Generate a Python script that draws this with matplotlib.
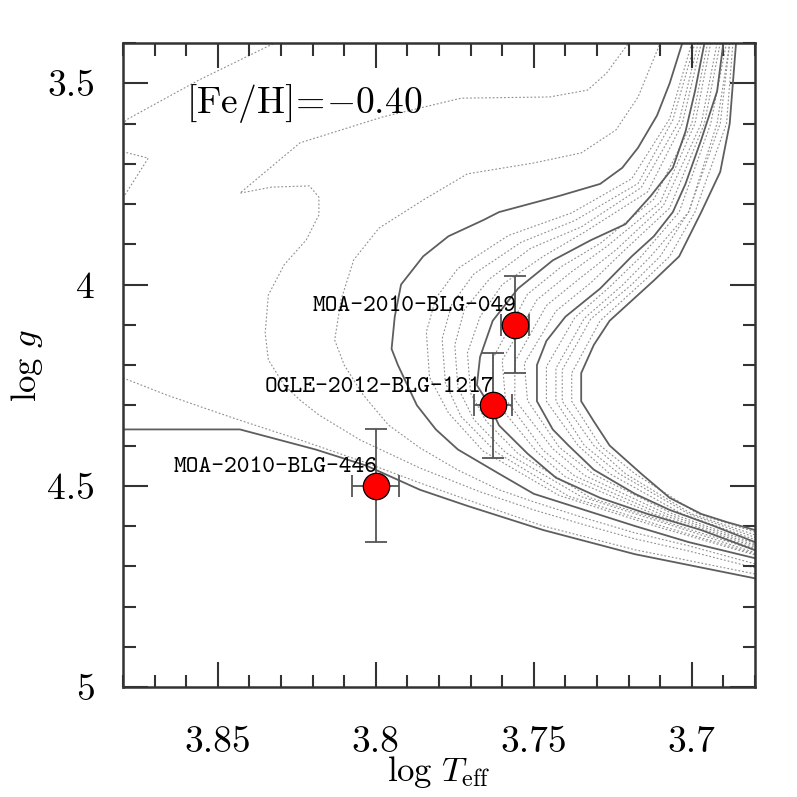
import numpy as np
import matplotlib
matplotlib.use("Agg")
import matplotlib.pyplot as plt
from matplotlib.ticker import MultipleLocator, FuncFormatter

plt.rcParams["font.family"] = "cmr10"
plt.rcParams["mathtext.fontset"] = "cm"
plt.rcParams["axes.formatter.use_mathtext"] = True

# --- isochrones (log Teff, log g) ---
# solid ones
iso_a_t = [3.686, 3.687, 3.688, 3.691, 3.697, 3.704, 3.712, 3.726, 3.731, 3.735, 3.735, 3.731, 3.726, 3.716, 3.707, 3.697, 3.689, 3.680]
iso_a_g = [3.40, 3.50, 3.60, 3.72, 3.82, 3.93, 3.99, 4.09, 4.15, 4.22, 4.29, 4.34, 4.40, 4.47, 4.53, 4.57, 4.59, 4.61]
iso_b_t = [3.690, 3.692, 3.697, 3.702, 3.706, 3.712, 3.719, 3.729, 3.740, 3.746, 3.749, 3.749, 3.744, 3.739, 3.731, 3.718, 3.707, 3.693, 3.680]
iso_b_g = [3.40, 3.52, 3.64, 3.75, 3.82, 3.88, 3.93, 4.01, 4.08, 4.14, 4.20, 4.29, 4.36, 4.40, 4.46, 4.52, 4.56, 4.60, 4.64]
iso_c_t = [3.696, 3.699, 3.702, 3.706, 3.713, 3.721, 3.732, 3.744, 3.755, 3.763, 3.767, 3.768, 3.764, 3.761, 3.752, 3.743, 3.729, 3.714, 3.697, 3.680]
iso_c_g = [3.40, 3.52, 3.62, 3.71, 3.78, 3.85, 3.89, 3.94, 4.01, 4.09, 4.18, 4.25, 4.30, 4.35, 4.42, 4.48, 4.53, 4.57, 4.61, 4.66]
iso_d_t = [3.703, 3.707, 3.711, 3.717, 3.722, 3.729, 3.742, 3.761, 3.766, 3.777, 3.785, 3.792, 3.794, 3.795, 3.793, 3.787, 3.781, 3.774, 3.761, 3.750, 3.734, 3.718, 3.701, 3.680]
iso_d_g = [3.40, 3.50, 3.58, 3.66, 3.71, 3.75, 3.78, 3.82, 3.84, 3.88, 3.93, 4.00, 4.08, 4.16, 4.20, 4.30, 4.36, 4.41, 4.47, 4.52, 4.56, 4.60, 4.64, 4.68]
iso_e_t = [3.880, 3.869, 3.843, 3.819, 3.803, 3.786, 3.771, 3.747, 3.718, 3.680]
iso_e_g = [4.36, 4.36, 4.36, 4.41, 4.45, 4.51, 4.55, 4.61, 4.67, 4.73]

# dotted ones between A and B
ab_t = [
    [3.687, 3.689, 3.699, 3.707, 3.715, 3.729, 3.738, 3.738, 3.729, 3.718, 3.698, 3.680],
    [3.688, 3.691, 3.701, 3.710, 3.719, 3.732, 3.741, 3.741, 3.731, 3.721, 3.700, 3.680],
    [3.688, 3.692, 3.701, 3.713, 3.722, 3.734, 3.743, 3.743, 3.734, 3.723, 3.701, 3.680],
    [3.689, 3.694, 3.704, 3.716, 3.726, 3.737, 3.746, 3.746, 3.736, 3.726, 3.703, 3.680],
]
ab_g = [
    [3.40, 3.60, 3.82, 3.93, 3.99, 4.09, 4.22, 4.29, 4.40, 4.47, 4.57, 4.615],
    [3.40, 3.60, 3.82, 3.93, 4.00, 4.086, 4.212, 4.29, 4.40, 4.47, 4.57, 4.622],
    [3.40, 3.60, 3.82, 3.93, 4.002, 4.084, 4.208, 4.29, 4.40, 4.47, 4.57, 4.628],
    [3.40, 3.60, 3.82, 3.93, 4.006, 4.082, 4.204, 4.29, 4.40, 4.47, 4.57, 4.634],
]
# between B and C
bc_t = [
    [3.691, 3.696, 3.707, 3.722, 3.732, 3.743, 3.753, 3.752, 3.742, 3.731, 3.706, 3.680],
    [3.692, 3.697, 3.709, 3.724, 3.735, 3.746, 3.756, 3.756, 3.744, 3.734, 3.708, 3.680],
    [3.694, 3.699, 3.710, 3.727, 3.738, 3.749, 3.760, 3.759, 3.747, 3.737, 3.710, 3.680],
    [3.695, 3.700, 3.712, 3.729, 3.741, 3.752, 3.763, 3.763, 3.749, 3.740, 3.712, 3.680],
]
bc_g = [
    [3.40, 3.60, 3.81, 3.92, 3.996, 4.066, 4.196, 4.288, 4.404, 4.472, 4.57, 4.644],
    [3.40, 3.60, 3.804, 3.914, 3.982, 4.052, 4.192, 4.286, 4.408, 4.474, 4.57, 4.648],
    [3.40, 3.60, 3.796, 3.906, 3.968, 4.038, 4.188, 4.284, 4.412, 4.476, 4.57, 4.652],
    [3.40, 3.60, 3.788, 3.898, 3.954, 4.024, 4.184, 4.282, 4.416, 4.478, 4.57, 4.656],
]
# between C and D
cd_t = [
    [3.697, 3.703, 3.714, 3.734, 3.747, 3.760, 3.767, 3.771, 3.770, 3.765, 3.755, 3.732, 3.700, 3.680],
    [3.698, 3.704, 3.716, 3.735, 3.751, 3.764, 3.772, 3.775, 3.774, 3.769, 3.759, 3.735, 3.703, 3.680],
    [3.699, 3.706, 3.717, 3.737, 3.754, 3.769, 3.776, 3.779, 3.778, 3.773, 3.762, 3.739, 3.707, 3.680],
    [3.700, 3.707, 3.719, 3.738, 3.758, 3.774, 3.781, 3.784, 3.783, 3.777, 3.766, 3.742, 3.710, 3.680],
]
cd_g = [
    [3.40, 3.60, 3.77, 3.87, 3.93, 4.00, 4.08, 4.17, 4.27, 4.34, 4.42, 4.53, 4.61, 4.66],
    [3.40, 3.594, 3.759, 3.857, 3.91, 3.986, 4.063, 4.15, 4.256, 4.335, 4.417, 4.527, 4.607, 4.666],
    [3.40, 3.591, 3.749, 3.841, 3.895, 3.974, 4.050, 4.135, 4.244, 4.328, 4.416, 4.526, 4.606, 4.669],
    [3.40, 3.588, 3.737, 3.822, 3.878, 3.960, 4.034, 4.118, 4.230, 4.319, 4.414, 4.524, 4.604, 4.672],
]
# between D and E (young ones)
de_t = [
    [3.680, 3.701, 3.718, 3.734, 3.750, 3.761, 3.774, 3.786, 3.796, 3.804, 3.810, 3.813, 3.811, 3.807,
     3.799, 3.785, 3.771, 3.750, 3.735, 3.724, 3.717, 3.710],
    [3.680, 3.701, 3.718, 3.734, 3.750, 3.767, 3.786, 3.805, 3.818, 3.824, 3.829, 3.834, 3.835, 3.834,
     3.829, 3.822, 3.818, 3.818, 3.821, 3.833, 3.843, 3.824, 3.798, 3.773, 3.745, 3.733, 3.727, 3.720],
    [3.680, 3.718, 3.747, 3.771, 3.786, 3.803, 3.824, 3.845, 3.866, 3.880, np.nan,
     3.880, 3.872, 3.880, np.nan, 3.880, 3.879, 3.856, 3.832],
]
de_g = [
    [4.694, 4.649, 4.617, 4.580, 4.540, 4.510, 4.461, 4.406, 4.349, 4.274, 4.200, 4.138, 4.038, 3.939,
     3.860, 3.790, 3.725, 3.698, 3.673, 3.616, 3.534, 3.400],
    [4.704, 4.662, 4.632, 4.597, 4.560, 4.515, 4.456, 4.386, 4.324, 4.287, 4.250, 4.187, 4.120, 4.026,
     3.951, 3.889, 3.827, 3.783, 3.755, 3.758, 3.773, 3.648, 3.584, 3.537, 3.534, 3.517, 3.475, 3.400],
    [4.719, 4.659, 4.600, 4.535, 4.493, 4.443, 4.386, 4.332, 4.275, 4.232, np.nan,
     3.785, 3.686, 3.670, np.nan, 3.604, 3.591, 3.492, 3.400],
]

# --- microlensed dwarfs ---
star_names = ["MOA-2010-BLG-049", "OGLE-2012-BLG-1217", "MOA-2010-BLG-446"]
star_teff = [3.756, 3.763, 3.800]
star_teff_err = [0.0045, 0.006, 0.0075]
star_logg = [4.10, 4.30, 4.50]
star_logg_err = [0.12, 0.13, 0.14]

solid_color = "#5e5e5e"
dot_color = "#8f8f8f"

fig = plt.figure(figsize=(7.97, 7.97), dpi=100)
ax = fig.add_axes([0.1543, 0.138, 0.7930, 0.808])

for t, g in [(iso_a_t, iso_a_g), (iso_b_t, iso_b_g), (iso_c_t, iso_c_g),
             (iso_d_t, iso_d_g), (iso_e_t, iso_e_g)]:
    ax.plot(t, g, color=solid_color, lw=1.3, zorder=2)

for group_t, group_g in [(ab_t, ab_g), (bc_t, bc_g), (cd_t, cd_g), (de_t, de_g)]:
    for t, g in zip(group_t, group_g):
        ax.plot(t, g, color=dot_color, lw=0.8, dashes=(1.6, 1.8), zorder=1)

ax.errorbar(star_teff, star_logg, xerr=star_teff_err, yerr=star_logg_err,
            fmt="none", ecolor="#555555", elinewidth=1.3, capsize=8, capthick=1.3, zorder=3)
ax.plot(star_teff, star_logg, "o", ms=19, mfc="red", mec="black", mew=0.9, zorder=4)

for name, t, g in zip(star_names, star_teff, star_logg):
    ax.annotate(name, (t, g), xytext=(1, 13), textcoords="offset points",
                ha="right", va="center", fontsize=17.5, family="cmtt10", zorder=5)

ax.text(3.860, 3.55, r"$[\mathrm{Fe/H}]\!=\!{-}0.40$", fontsize=27, va="center", ha="left")

ax.set_xlim(3.88, 3.68)
ax.set_ylim(5.0, 3.4)
ax.xaxis.set_major_locator(MultipleLocator(0.05))
ax.xaxis.set_minor_locator(MultipleLocator(0.01))
ax.yaxis.set_major_locator(MultipleLocator(0.5))
ax.yaxis.set_minor_locator(MultipleLocator(0.1))
fmt = FuncFormatter(lambda v, _: f"{v:g}")
ax.xaxis.set_major_formatter(fmt)
ax.yaxis.set_major_formatter(fmt)

ax.tick_params(which="both", direction="in", top=True, right=True, colors="#333333",
               width=1.5, labelsize=27, labelcolor="black")
ax.tick_params(which="major", length=18)
ax.tick_params(which="minor", length=9)
ax.tick_params(axis="x", which="major", pad=28)
ax.tick_params(axis="y", which="major", pad=20)
for s in ax.spines.values():
    s.set_linewidth(1.8)
    s.set_color("#333333")

ax.set_xlabel(r"$\log\,T_{\rm eff}$", fontsize=25, labelpad=-4)
ax.set_ylabel(r"$\log\,g$", fontsize=25, labelpad=2)

fig.savefig("out.png", dpi=100)
